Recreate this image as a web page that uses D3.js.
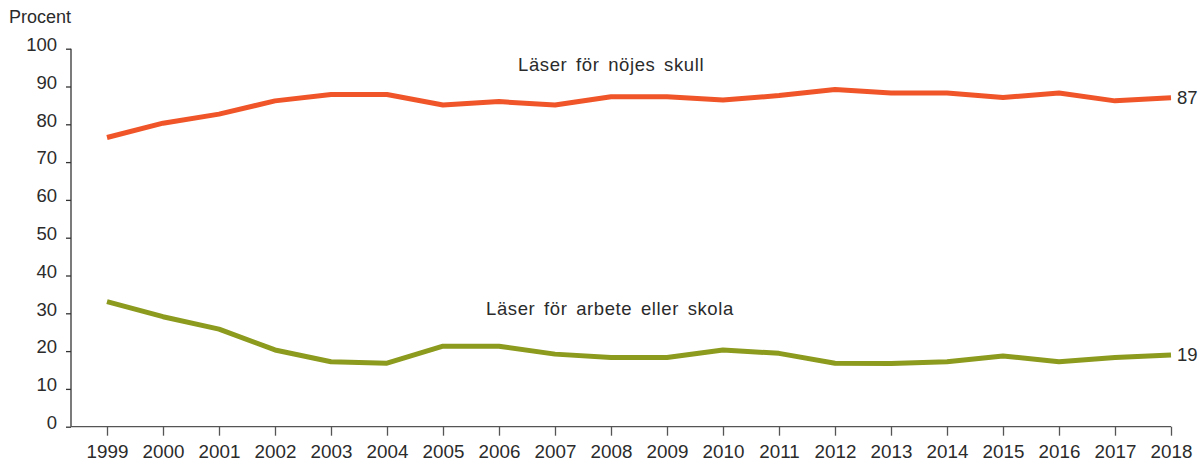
<!DOCTYPE html>
<html>
<head>
<meta charset="utf-8">
<script src="https://cdn.jsdelivr.net/npm/d3@7"></script>
<style>
  html, body { margin: 0; padding: 0; background: #fff; }
  svg { display: block; font-family: "Liberation Sans", Arial, sans-serif; }
  .tick text { fill: #2b2b2b; }
</style>
</head>
<body>
<svg id="chart" width="1204" height="464"></svg>
<script>
// Andel som läser böcker, procent per år
const years = [1999, 2000, 2001, 2002, 2003, 2004, 2005, 2006, 2007, 2008,
               2009, 2010, 2011, 2012, 2013, 2014, 2015, 2016, 2017, 2018];
const nojesValues = [76.5, 80.3, 82.7, 86.2, 87.9, 87.9, 85.1, 86.0, 85.1, 87.3,
                     87.3, 86.4, 87.6, 89.2, 88.3, 88.3, 87.1, 88.3, 86.2, 87];
const arbeteValues = [33.1, 29.1, 25.8, 20.3, 17.2, 16.8, 21.3, 21.3, 19.2, 18.3,
                      18.3, 20.3, 19.4, 16.8, 16.7, 17.2, 18.7, 17.2, 18.3, 19];
const yTicks = [0, 10, 20, 30, 40, 50, 60, 70, 80, 90, 100];
const seriesNames = ["Läser för nöjes skull", "Läser för arbete eller skola"];
const yTitle = "Procent";

const svg = d3.select("#chart");

const x = d3.scaleLinear().domain([1999, 2018]).range([107, 1171]);
const y = d3.scaleLinear().domain([0, 100]).range([426.7, 48.7]);
const axisLeftX = 71;

// Y axis
const gy = svg.append("g").attr("transform", `translate(${axisLeftX},0)`)
  .call(d3.axisLeft(y).tickValues(yTicks).tickSize(5).tickPadding(9));
gy.select(".domain").attr("stroke", "#333").attr("stroke-width", 1.3)
  .attr("d", `M0,${y(100)}V${y(0)}`);
gy.selectAll(".tick line").attr("stroke", "#333").attr("stroke-width", 1.3);
gy.selectAll(".tick text").attr("font-size", 18.5).attr("dy", "0.1em");

// X axis
const gx = svg.append("g").attr("transform", `translate(0,${y(0)})`)
  .call(d3.axisBottom(x).tickValues(years).tickFormat(d3.format("d")).tickSize(9).tickPadding(8));
gx.select(".domain").attr("stroke", "#555").attr("stroke-width", 1.3)
  .attr("d", `M${axisLeftX},0H${x(2018)}`);
gx.selectAll(".tick line").attr("stroke", "#555").attr("stroke-width", 1.3);
gx.selectAll(".tick text").attr("font-size", 18.8).attr("dy", "0.78em");

// Y axis title
svg.append("text").attr("x", 9).attr("y", 23).attr("font-size", 18)
  .attr("fill", "#2b2b2b").text(yTitle);

const line = d3.line().x((d, i) => x(years[i])).y(d => y(d));

const series = [
  { name: seriesNames[0], values: nojesValues, color: "#EF5529", lx: 518, ly: 70.5 },
  { name: seriesNames[1], values: arbeteValues, color: "#8C9A1E", lx: 486, ly: 315 }
];

series.forEach(s => {
  svg.append("path").datum(s.values)
    .attr("d", line)
    .attr("fill", "none")
    .attr("stroke", s.color)
    .attr("stroke-width", 5)
    .attr("stroke-linejoin", "round");

  svg.append("text").attr("x", s.lx).attr("y", s.ly)
    .attr("font-size", 18.5)
    .attr("letter-spacing", 0.6)
    .attr("word-spacing", 3)
    .attr("fill", "#2b2b2b")
    .text(s.name);

  const last = s.values[s.values.length - 1];
  svg.append("text").attr("x", x(2018) + 6).attr("y", y(last))
    .attr("dy", "0.35em")
    .attr("font-size", 18.5)
    .attr("fill", "#2b2b2b")
    .text(d3.format("d")(last));
});
</script>
</body>
</html>
